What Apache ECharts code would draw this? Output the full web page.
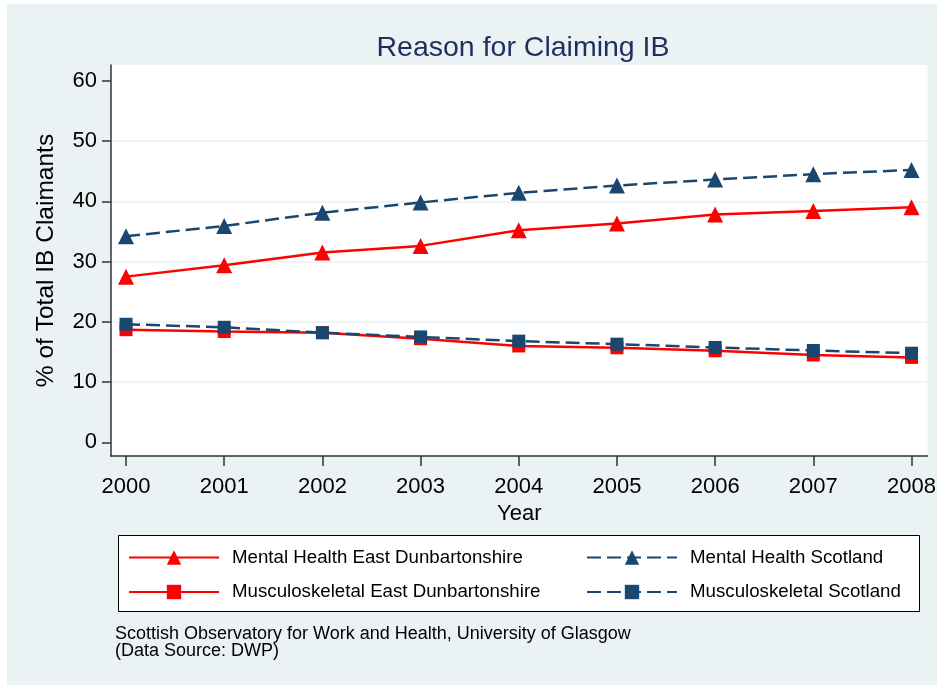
<!DOCTYPE html>
<html>
<head>
<meta charset="utf-8">
<script src="https://cdn.jsdelivr.net/npm/echarts@6/dist/echarts.min.js"></script>
<style>
html,body{margin:0;padding:0;background:#fff;}
#wrap{position:relative;width:939px;height:685px;background:#fff;overflow:hidden;}
#bg{position:absolute;left:7px;top:4px;width:930px;height:681px;background:#eaf2f3;}
#chart{position:absolute;left:0;top:0;width:939px;height:685px;}
</style>
</head>
<body>
<div id="wrap"><div id="bg"></div><div id="chart"></div></div>
<script>
const years = [2000, 2001, 2002, 2003, 2004, 2005, 2006, 2007, 2008];
const mentalED = [27.5, 29.4, 31.5, 32.6, 35.2, 36.3, 37.8, 38.4, 39.0];
const mentalScot = [34.2, 35.9, 38.1, 39.8, 41.4, 42.6, 43.6, 44.5, 45.2];
const muscED = [18.7, 18.4, 18.2, 17.2, 16.0, 15.7, 15.2, 14.5, 14.1];
const muscScot = [19.6, 19.1, 18.2, 17.5, 16.8, 16.3, 15.75, 15.25, 14.8];
const yTicks = [0, 10, 20, 30, 40, 50, 60];
const yGrid = [10, 20, 30, 40, 50];
const names = ['Mental Health East Dunbartonshire', 'Mental Health Scotland',
               'Musculoskeletal East Dunbartonshire', 'Musculoskeletal Scotland'];

const RED = '#ff0000', NAVY = '#1a476f', AX = '#333333';
const FONT = '"Liberation Sans", Arial, sans-serif';
const pairs = vals => years.map((y, i) => [y, vals[i]]);

const chart = echarts.init(document.getElementById('chart'), null, {renderer: 'canvas'});
const yMin = -2.25, yMax = 62.6;
chart.setOption({
  backgroundColor: 'transparent',
  animation: false,
  textStyle: {fontFamily: FONT},
  title: [
    {text: 'Reason for Claiming IB', left: 518, top: 29, textAlign: 'center',
     textStyle: {fontSize: 28.5, fontWeight: 'normal', color: '#1e2f5c', fontFamily: FONT}},
    {text: 'Scottish Observatory for Work and Health, University of Glasgow\n(Data Source: DWP)',
     left: 115, top: 626, padding: 0,
     textStyle: {fontSize: 18, lineHeight: 17, fontWeight: 'normal', color: '#000', fontFamily: FONT}}
  ],
  graphic: [{type: 'rect', z: -1, shape: {x: 118.5, y: 535.5, width: 801, height: 76},
             style: {fill: '#fff', stroke: '#000', lineWidth: 1}}],
  legend: [
    {data: [names[0], names[2]], orient: 'vertical', left: 128, top: 548, padding: 0,
     itemWidth: 90, itemHeight: 18, itemGap: 15.5,
     textStyle: {fontSize: 18.7, color: '#000', fontFamily: FONT, padding: [0, 0, 0, 8]}},
    {data: [names[1], names[3]], orient: 'vertical', left: 586, top: 548, padding: 0,
     itemWidth: 90, itemHeight: 18, itemGap: 15.5,
     textStyle: {fontSize: 18.7, color: '#000', fontFamily: FONT, padding: [0, 0, 0, 8]}}
  ],
  grid: {left: 111, top: 65, width: 817, height: 391, show: true, backgroundColor: '#fff', borderWidth: 0, containLabel: false},
  xAxis: {
    type: 'value', min: 1999.847, max: 2008.163,
    name: 'Year', nameLocation: 'middle', nameGap: 43,
    nameTextStyle: {fontSize: 22, color: '#000', fontFamily: FONT},
    axisLine: {show: true, onZero: false, lineStyle: {color: AX, width: 1.5}},
    axisTick: {show: true, customValues: years, length: 10, lineStyle: {color: AX, width: 1.5}},
    axisLabel: {customValues: years, fontSize: 22, color: '#000', margin: 20, fontFamily: FONT,
                formatter: v => String(Math.round(v))},
    splitLine: {show: false}
  },
  yAxis: [
    {
      type: 'value', min: yMin, max: yMax, position: 'left',
      name: '% of Total IB Claimants', nameLocation: 'middle', nameGap: 52, nameRotate: 90,
      nameTextStyle: {fontSize: 24.5, color: '#000', fontFamily: FONT},
      axisLine: {show: true, onZero: false, lineStyle: {color: AX, width: 1.5}},
      axisTick: {show: true, customValues: yTicks, length: 9, lineStyle: {color: AX, width: 1.5}},
      axisLabel: {customValues: yTicks, fontSize: 22, color: '#000', margin: 14, fontFamily: FONT},
      splitLine: {show: false}
    },
    {
      type: 'value', min: yMin, max: yMax, position: 'left',
      axisLine: {show: false}, axisLabel: {show: false},
      axisTick: {show: false, customValues: yGrid},
      splitLine: {show: true, lineStyle: {color: '#eaf2f3', width: 1.5}}
    }
  ],
  series: [
    {name: names[0], type: 'line', data: pairs(mentalED), symbol: 'triangle', symbolSize: 16,
     itemStyle: {color: RED}, lineStyle: {color: RED, width: 2.5}, z: 3},
    {name: names[2], type: 'line', data: pairs(muscED), symbol: 'rect', symbolSize: 13,
     itemStyle: {color: RED}, lineStyle: {color: RED, width: 2.5}, z: 3},
    {name: names[1], type: 'line', data: pairs(mentalScot), symbol: 'triangle', symbolSize: 16,
     itemStyle: {color: NAVY}, lineStyle: {color: NAVY, width: 2.5, type: [14, 6]}, z: 4},
    {name: names[3], type: 'line', data: pairs(muscScot), symbol: 'rect', symbolSize: 13,
     itemStyle: {color: NAVY}, lineStyle: {color: NAVY, width: 2.5, type: [14, 6]}, z: 4}
  ]
});
</script>
</body>
</html>
